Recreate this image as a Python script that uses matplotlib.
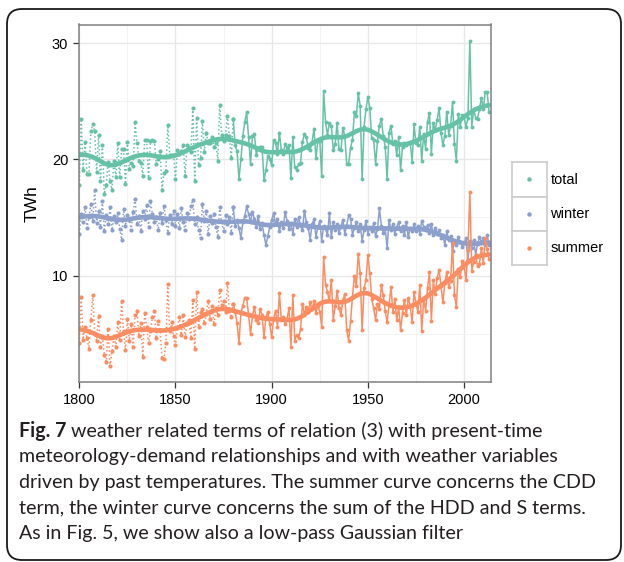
import numpy as np
import matplotlib
matplotlib.use('Agg')
import matplotlib.pyplot as plt
from matplotlib.patches import FancyBboxPatch

# annual values, 1800 .. 2013 (TWh)
years = np.arange(1800, 2014)

summer = [
    4.2, 8.2, 4.5, 5.6, 4.6, 3.7, 6.2, 8.3, 5.0, 4.4,
    6.5, 3.9, 4.8, 3.2, 2.6, 5.4, 2.2, 3.5, 4.8, 3.9,
    6.0, 4.5, 7.8, 5.2, 3.6, 6.3, 4.4, 5.8, 3.9, 6.6,
    7.0, 4.8, 5.9, 3.0, 6.8, 5.6, 4.2, 5.2, 6.4, 7.0,
    4.6, 6.1, 5.3, 2.9, 2.8, 4.2, 9.25, 5.2, 6.0, 4.8,
    4.0, 5.5, 6.4, 4.9, 6.6, 4.7, 5.8, 6.2, 4.6, 7.9,
    3.7, 8.6, 5.6, 6.9, 7.1, 5.9, 6.7, 7.8, 6.3, 7.4,
    5.8, 7.2, 6.6, 8.8, 7.5, 7.8, 6.9, 9.35, 7.0, 6.4,
    7.6, 6.9, 5.9, 4.2, 6.8, 7.4, 8.1, 8.1, 6.6, 5.0,
    6.5, 7.3, 6.2, 5.9, 7.1, 6.6, 4.7, 6.4, 6.9, 5.8,
    4.7, 6.3, 7.0, 5.6, 8.5, 6.2, 6.4, 5.8, 6.3, 7.2,
    3.9, 8.3, 4.4, 4.9, 4.6, 5.4, 7.6, 6.6, 7.3, 6.9,
    7.7, 7.1, 7.8, 6.8, 7.4, 6.9, 5.6, 11.6, 9.2, 8.6,
    7.8, 9.6, 6.2, 7.4, 8.7, 7.2, 6.6, 7.9, 8.4, 5.3,
    4.4, 6.1, 8.2, 10.0, 9.1, 11.9, 10.2, 5.3, 8.9, 9.6,
    11.8, 10.2, 8.0, 7.2, 6.2, 7.6, 7.1, 9.2, 8.3, 7.0,
    6.0, 7.5, 9.0, 6.9, 8.0, 6.2, 7.3, 5.3, 6.8, 7.9,
    6.6, 8.1, 7.4, 6.0, 8.6, 7.6, 6.9, 9.2, 5.2, 8.0,
    7.0, 8.9, 10.3, 6.1, 9.6, 8.4, 9.8, 10.5, 9.1, 7.7,
    9.4, 10.3, 9.0, 9.5, 12.8, 8.3, 7.3, 10.6, 9.9, 11.3,
    10.9, 9.6, 12.2, 17.2, 10.4, 11.2, 11.8, 10.8, 11.0, 12.4,
    11.1, 13.2, 12.3, 11.4,
]

winter = [
    13.6, 15.3, 14.6, 15.9, 14.1, 15.0, 16.2, 14.7, 17.4, 14.5,
    15.6, 14.2, 16.4, 13.8, 15.2, 14.4, 15.9, 13.9, 15.1, 14.6,
    15.4, 14.0, 13.1, 15.7, 14.3, 15.2, 14.8, 13.9, 15.5, 16.6,
    14.4, 15.1, 13.8, 15.6, 14.9, 16.1, 14.2, 16.4, 15.3, 14.6,
    15.0, 13.9, 15.4, 14.5, 16.0, 14.8, 13.7, 15.2, 14.4, 15.6,
    14.3, 15.3, 14.1, 15.8, 14.6, 13.9, 15.4, 14.9, 16.0, 16.5,
    14.4, 15.0, 13.9, 13.2, 16.2, 14.7, 15.6, 13.6, 15.1, 14.5,
    15.3, 14.2, 13.3, 15.9, 14.6, 13.8, 15.2, 14.4, 15.0, 13.7,
    15.9, 14.3, 14.8, 14.1, 13.2, 14.6, 15.1, 15.95, 15.3, 14.6,
    15.5, 14.9, 14.2, 15.1, 14.0, 14.5, 13.5, 12.65, 13.4, 14.2,
    14.8, 15.35, 14.4, 14.9, 13.8, 14.6, 14.1, 15.5, 14.7, 14.0,
    14.5, 13.6, 14.9, 14.2, 15.0, 14.3, 13.9, 15.6, 14.6, 14.1,
    13.1, 14.4, 14.85, 13.3, 14.2, 14.7, 13.0, 14.3, 14.0, 13.5,
    15.35, 13.3, 14.6, 13.9, 14.4, 13.7, 14.2, 14.8, 13.6, 14.3,
    15.2, 14.9, 13.5, 14.1, 14.6, 13.8, 14.4, 13.0, 13.9, 14.7,
    13.6, 14.2, 13.8, 14.5, 13.4, 14.0, 15.8, 14.3, 13.7, 14.1,
    12.35, 14.8, 13.9, 14.4, 13.6, 14.2, 14.6, 13.8, 14.3, 13.5,
    14.6, 13.3, 14.1, 13.8, 14.4, 13.8, 14.3, 13.6, 14.7, 14.2,
    13.9, 14.35, 13.7, 14.4, 13.5, 14.1, 13.6, 13.9, 13.2, 13.5,
    12.65, 13.8, 13.1, 13.4, 12.1, 13.0, 12.6, 13.3, 12.9, 12.5,
    12.8, 13.2, 11.35, 13.0, 12.4, 13.1, 11.8, 12.7, 13.3, 12.9,
    13.2, 12.6, 13.5, 12.65,
]

# total weather term is the sum of both seasonal terms
total = np.array(winter) + np.array(summer)

series = [
    ('total', total, '#66C2A5'),
    ('winter', np.array(winter), '#8DA0CB'),
    ('summer', np.array(summer), '#FC8D62'),
]

SPLIT_YEAR = 1880   # reconstructed (dotted) before, observed (solid) after
SIGMA = 6.0         # width of the low-pass gaussian filter, years


def gaussian_smooth(y, sigma):
    half = int(4 * sigma)
    k = np.exp(-0.5 * (np.arange(-half, half + 1) / sigma) ** 2)
    num = np.convolve(y, k, mode='same')
    den = np.convolve(np.ones_like(y), k, mode='same')
    return num / den


fig = plt.figure(figsize=(6.24, 5.62), dpi=100)
W, H = 624, 562


def px_axes(x0, y0, x1, y1):
    # axes from pixel box (top-left origin)
    return fig.add_axes([x0 / W, 1 - y1 / H, (x1 - x0) / W, (y1 - y0) / H])


# rounded frame around figure + caption
frame = FancyBboxPatch((0.07, 0.02), 6.14, 5.51,
                       boxstyle='round,pad=0,rounding_size=0.15',
                       transform=fig.dpi_scale_trans, fill=False,
                       edgecolor='#1a1a1a', linewidth=1.3)
fig.patches.append(frame)

ax = px_axes(79.3, 24.5, 491, 382)

for name, vals, col in series:
    early = years <= SPLIT_YEAR
    late = years >= SPLIT_YEAR
    ax.plot(years[early], vals[early], color=col, linestyle=(0, (1, 1.6)),
            linewidth=1.1, marker='o', markersize=3.0, markeredgewidth=0)
    ax.plot(years[late], vals[late], color=col, linestyle='-',
            linewidth=1.1, marker='o', markersize=2.8, markeredgewidth=0)
    ax.plot(years, gaussian_smooth(vals, SIGMA), color=col, linewidth=3.3,
            solid_capstyle='round')

ax.set_xlim(1800, 2014)
ax.set_ylim(0.85, 31.6)
ax.set_xticks([1800, 1850, 1900, 1950, 2000])
ax.set_xticks([1825, 1875, 1925, 1975], minor=True)
ax.set_yticks([10, 20, 30])
ax.set_yticks([5, 15, 25], minor=True)
ax.grid(which='major', color='#E8E8E8', linewidth=1.0)
ax.grid(which='minor', color='#F3F3F3', linewidth=0.7)
ax.set_axisbelow(True)
for s in ax.spines.values():
    s.set_color('#808080')
    s.set_linewidth(1.1)
ax.tick_params(which='major', length=4.5, width=0.9, color='#333333',
               labelsize=10.5, pad=3.5, labelcolor='black')
ax.tick_params(which='minor', length=0)
for lab in ax.get_xticklabels() + ax.get_yticklabels():
    lab.set_family('Liberation Sans')
ax.set_ylabel('TWh', fontsize=12.5, family='Liberation Sans', labelpad=9)

# legend keys
key_top = 162.3
for i, (name, vals, col) in enumerate(series):
    y0 = key_top + i * 34.3
    kax = px_axes(512, y0, 546.7, y0 + 34.3)
    kax.set_xticks([])
    kax.set_yticks([])
    kax.set_xlim(0, 1)
    kax.set_ylim(0, 1)
    for s in kax.spines.values():
        s.set_color('#CCCCCC')
        s.set_linewidth(1.2)
    kax.plot([0.5], [0.5], 'o', color=col, markersize=3.2, markeredgewidth=0)
    fig.text(550.5 / W, 1 - (y0 + 17.5) / H, name, fontsize=10.5,
             family='Liberation Sans', va='center', ha='left')

# caption
cap_font = 'Lato'
cap_size = 14.1
cap_lines = [
    'weather related terms of relation (3) with present-time',
    'meteorology-demand relationships and with weather variables',
    'driven by past temperatures. The summer curve concerns the CDD',
    'term, the winter curve concerns the sum of the HDD and S terms.',
    'As in Fig. 5, we show also a low-pass Gaussian filter',
]
x_cap = 19 / W
fig_txt = fig.text(x_cap, 1 - 431 / H, 'Fig. 7', fontsize=cap_size,
                   family=cap_font, fontweight='bold', va='center',
                   color='#231f20')
fig.canvas.draw()
bb = fig_txt.get_window_extent()
fig.text(bb.x1 / W + 5 / W, 1 - 431 / H, cap_lines[0], fontsize=cap_size,
         family=cap_font, va='center', color='#231f20')
for i, line in enumerate(cap_lines[1:], start=1):
    fig.text(x_cap, 1 - (431 + i * 25.7) / H, line, fontsize=cap_size,
             family=cap_font, va='center', color='#231f20')

fig.savefig('out.png', dpi=100)
